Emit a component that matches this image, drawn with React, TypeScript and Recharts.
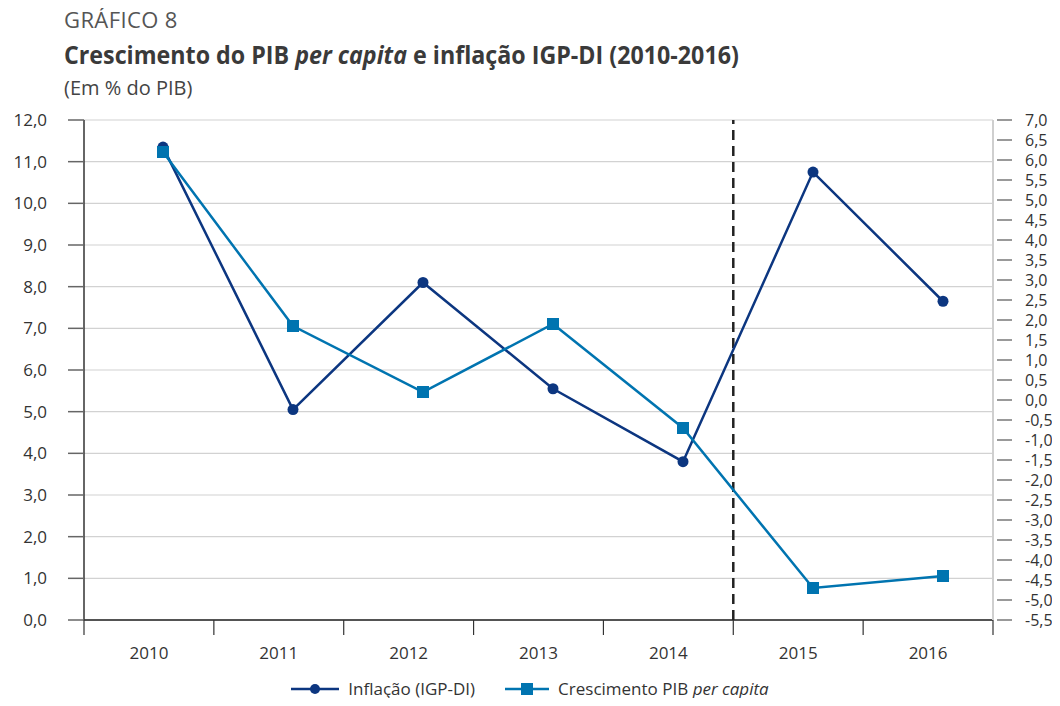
import { LineChart, Line, XAxis, YAxis, CartesianGrid, ReferenceLine, Legend } from "recharts";

const years = ["2010", "2011", "2012", "2013", "2014", "2015", "2016"];
const inflacaoIgpDi = [11.35, 5.05, 8.1, 5.55, 3.8, 10.75, 7.65];
const pibPerCapita = [6.2, 1.85, 0.2, 1.9, -0.7, -4.7, -4.4];
const leftTicks = [0, 1, 2, 3, 4, 5, 6, 7, 8, 9, 10, 11, 12];
const rightTicks = [
  7, 6.5, 6, 5.5, 5, 4.5, 4, 3.5, 3, 2.5, 2, 1.5, 1, 0.5, 0, -0.5, -1, -1.5, -2, -2.5, -3, -3.5, -4, -4.5, -5, -5.5,
];
const breakYear = "2015";

const data = years.map((year, i) => ({
  year,
  inflacao: inflacaoIgpDi[i],
  pib: pibPerCapita[i],
}));

const FONT = "'Open Sans', 'Noto Sans', sans-serif";
const NAVY = "#0c3680";
const TEAL = "#0074b0";
const TEXT = "#333";

const fmt = (v: number) => v.toFixed(1).replace(".", ",");

function YearTick(props: any) {
  const { x, y, payload, index } = props;
  const half = payload?.offset || 909 / 7 / 2;
  return (
    <g>
      <line x1={x - half} x2={x - half} y1={y} y2={y + 15} stroke="#333" strokeWidth={1.2} />
      {index === years.length - 1 && (
        <line x1={x + half} x2={x + half} y1={y} y2={y + 15} stroke="#333" strokeWidth={1.2} />
      )}
      <text x={x} y={y + 39} textAnchor="middle" fontFamily={FONT} fontSize={17} fill={TEXT}>
        {payload.value}
      </text>
    </g>
  );
}

function RightTick(props: any) {
  const { x, y, payload } = props;
  return (
    <g>
      <line x1={x - 28} x2={x - 13} y1={y} y2={y} stroke="#555" strokeWidth={1.2} />
      <text x={x} y={y} dy={5.5} textAnchor="start" fontFamily={FONT} fontSize={16} fill={TEXT}>
        {fmt(payload.value)}
      </text>
    </g>
  );
}

function SquareDot(props: any) {
  const { cx, cy } = props;
  if (cx == null || cy == null) return <g />;
  return <rect x={cx - 6} y={cy - 6} width={12} height={12} fill={TEAL} />;
}

function LegendContent() {
  return (
    <div
      style={{
        display: "flex",
        justifyContent: "center",
        alignItems: "center",
        gap: 30,
        height: 24,
        fontFamily: FONT,
        fontSize: 17,
        lineHeight: "24px",
        color: TEXT,
      }}
    >
      <span style={{ display: "flex", alignItems: "center", gap: 9 }}>
        <svg width={48} height={14}>
          <line x1={0} x2={48} y1={7} y2={7} stroke={NAVY} strokeWidth={2.5} />
          <circle cx={24} cy={7} r={5} fill={NAVY} />
        </svg>
        Inflação (IGP-DI)
      </span>
      <span style={{ display: "flex", alignItems: "center", gap: 9 }}>
        <svg width={44} height={14}>
          <line x1={0} x2={44} y1={7} y2={7} stroke={TEAL} strokeWidth={2.5} />
          <rect x={16} y={1} width={12} height={12} fill={TEAL} />
        </svg>
        <span>
          Crescimento PIB <i>per capita</i>
        </span>
      </span>
    </div>
  );
}

export default function App() {
  return (
    <div style={{ position: "relative", width: 1044, height: 690 }}>
      <div style={{ position: "absolute", left: -8, top: -8, width: 1060, height: 706 }}>
        <div
          style={{
            position: "absolute",
            left: 64,
            top: 5,
            fontFamily: FONT,
            fontSize: 22,
            lineHeight: "28px",
            color: "#555",
            letterSpacing: 0.4,
          }}
        >
          GRÁFICO 8
        </div>
        <div
          style={{
            position: "absolute",
            left: 64,
            top: 37,
            fontFamily: FONT,
            fontSize: 25,
            lineHeight: "34px",
            fontWeight: 700,
            color: "#3a3a3a",
            whiteSpace: "nowrap",
            transform: "scaleX(0.93)",
            transformOrigin: "left center",
          }}
        >
          Crescimento do PIB <i>per capita</i> e inflação IGP-DI (2010-2016)
        </div>
        <div
          style={{
            position: "absolute",
            left: 64,
            top: 74,
            fontFamily: FONT,
            fontSize: 20,
            lineHeight: "28px",
            color: "#444",
            whiteSpace: "nowrap",
          }}
        >
          (Em % do PIB)
        </div>
        <div style={{ position: "absolute", left: 0, top: 0 }}>
          <LineChart width={1060} height={706} data={data} margin={{ top: 120, right: 0, bottom: 0, left: 0 }}>
            <CartesianGrid xAxisId="lbl" yAxisId="left" vertical={false} stroke="#d2d2d2" strokeWidth={1.2} />
            <XAxis
              xAxisId="lbl"
              dataKey="year"
              scale="band"
              height={62}
              interval={0}
              tickSize={0}
              tickMargin={0}
              tickLine={false}
              axisLine={{ stroke: "#222", strokeWidth: 1.5 }}
              tick={<YearTick />}
            />
            <XAxis xAxisId="pts" dataKey="year" hide padding={{ left: 79, right: 50 }} />
            <YAxis
              yAxisId="left"
              orientation="left"
              width={84}
              domain={[0, 12]}
              ticks={leftTicks}
              interval={0}
              tickFormatter={fmt}
              tickSize={16}
              tickMargin={21}
              axisLine={{ stroke: "#333", strokeWidth: 1.5 }}
              tickLine={{ stroke: "#666", strokeWidth: 1.5 }}
              tick={{ fontFamily: FONT, fontSize: 17, fill: TEXT }}
            />
            <YAxis
              yAxisId="right"
              orientation="right"
              width={67}
              domain={[-5.5, 7]}
              ticks={rightTicks}
              interval={0}
              tickSize={20}
              tickMargin={12}
              tickLine={false}
              axisLine={{ stroke: "#cfcfcf", strokeWidth: 2 }}
              tick={<RightTick />}
            />
            <ReferenceLine
              xAxisId="lbl"
              yAxisId="left"
              x={breakYear}
              position="start"
              stroke="#222"
              strokeWidth={2.5}
              strokeDasharray="10 6"
            />
            <Line
              xAxisId="pts"
              yAxisId="left"
              dataKey="inflacao"
              name="Inflação (IGP-DI)"
              stroke={NAVY}
              strokeWidth={2.5}
              dot={{ r: 5.5, fill: NAVY, stroke: NAVY, strokeWidth: 0 }}
              activeDot={false}
              isAnimationActive={false}
            />
            <Line
              xAxisId="pts"
              yAxisId="right"
              dataKey="pib"
              name="Crescimento PIB per capita"
              stroke={TEAL}
              strokeWidth={2.5}
              dot={<SquareDot />}
              activeDot={false}
              isAnimationActive={false}
            />
            <Legend
              verticalAlign="bottom"
              content={<LegendContent />}
              wrapperStyle={{ top: 677, bottom: "auto", left: 0, width: 1060, height: 24 }}
            />
          </LineChart>
        </div>
      </div>
    </div>
  );
}
